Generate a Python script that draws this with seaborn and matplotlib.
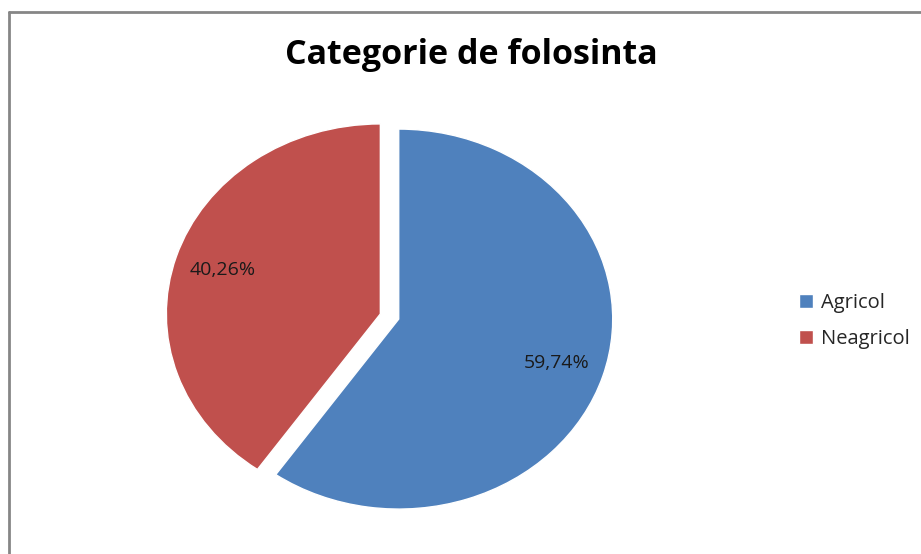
import matplotlib
matplotlib.use("Agg")
import matplotlib.pyplot as plt
import seaborn as sns
from matplotlib.lines import Line2D

# Date
categorii = ["Agricol", "Neagricol"]
procente = [59.74, 40.26]
culori = ["#4F81BD", "#C0504D"]
titlu = "Categorie de folosinta"

sns.set_style("white")
plt.rcParams["font.family"] = ["Open Sans", "DejaVu Sans"]

fig = plt.figure(figsize=(9.21, 5.54), dpi=100)
ax = fig.add_axes([0.1325, 0.0, 0.5809, 0.8574])

wedges, texts, autotexts = ax.pie(
    procente,
    colors=culori,
    startangle=90,
    counterclock=False,
    explode=[0.045, 0.045],
    autopct=lambda p: f"{p:.2f}%".replace(".", ","),
    pctdistance=0.775,
    textprops=dict(fontsize=14, color="#1a1a1a"),
)
ax.set_aspect("auto")
ax.set_xlim(-1.25, 1.25)
ax.set_ylim(-1.25, 1.25)

fig.text(0.512, 0.90, titlu, ha="center", va="center",
         fontsize=24.5, fontweight="bold", color="black")

fig.legend(wedges, categorii, loc="center left",
           bbox_to_anchor=(0.848, 0.42), frameon=False,
           fontsize=14.5, handlelength=0.68, handleheight=0.68,
           handletextpad=0.4, labelspacing=0.8)

# chenarul graficului
y0 = 1 - 12 / 554
x0 = 9 / 921
fig.add_artist(Line2D([x0, 1.0], [y0, y0], color="#868686", lw=2))
fig.add_artist(Line2D([x0, x0], [0.0, y0], color="#868686", lw=2))

fig.savefig("out.png", dpi=100)
